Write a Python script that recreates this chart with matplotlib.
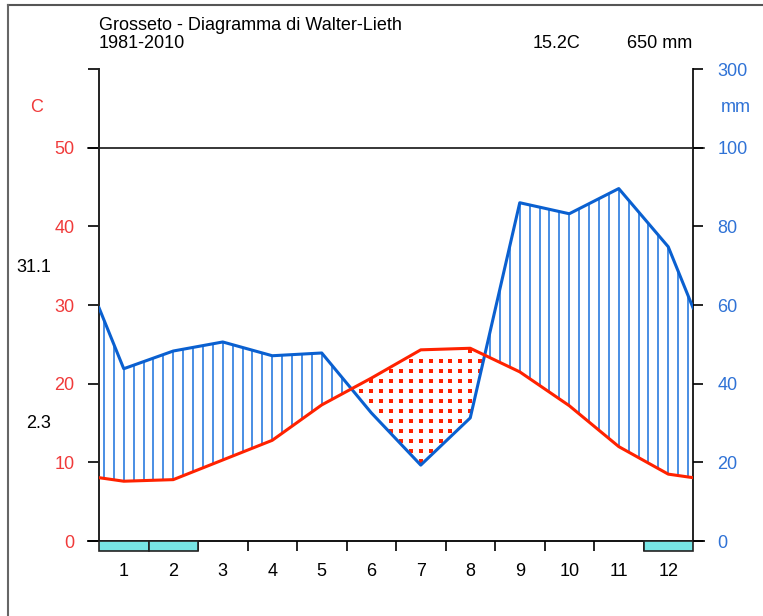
import numpy as np
import matplotlib
matplotlib.use('Agg')
import matplotlib.pyplot as plt
from matplotlib.lines import Line2D

plt.rcParams['font.family'] = ['Liberation Sans', 'DejaVu Sans']
plt.rcParams['font.size'] = 13

# Data
months = ['1', '2', '3', '4', '5', '6', '7', '8', '9', '10', '11', '12']
temp_c = [7.6, 7.8, 10.3, 12.8, 17.3, 20.7, 24.3, 24.5, 21.5, 17.2, 12.0, 8.5]
prec_mm = [43.8, 48.3, 50.6, 47.1, 47.8, 32.6, 19.3, 31.3, 86.0, 83.2, 89.6, 74.8]
frost_months = [1, 2, 12]
station = 'Grosseto - Diagramma di Walter-Lieth'
period = '1981-2010'
mean_temp = '15.2C'
total_prec = '650 mm'
max_warm = '31.1'
min_cold = '2.3'

colors = {
    'red': '#FF2200',
    'red_text': '#F03A3A',
    'blue': '#0A60D0',
    'hatch': '#3A86E2',
    'blue_text': '#2F72D6',
    'frost': '#77E6E6',
}
fs = 13

# curves at month centres, closed at both edges with Dec/Jan mean
t_arr = np.array(temp_c)
p_arr = np.array(prec_mm) / 2.0  # 2 mm per degree
x_pts = np.r_[0, np.arange(12) + 0.5, 12]
t_pts = np.r_[(t_arr[0] + t_arr[-1]) / 2, t_arr, (t_arr[0] + t_arr[-1]) / 2]
p_pts = np.r_[(p_arr[0] + p_arr[-1]) / 2, p_arr, (p_arr[0] + p_arr[-1]) / 2]

fig = plt.figure(figsize=(7.63, 6.16), dpi=100)
ax = fig.add_axes([99 / 763, 1 - 541 / 616, 594 / 763, 472 / 616])
ax.set_xlim(0, 12)
ax.set_ylim(0, 60)

# humid period: vertical blue hatching
xs = 0.1 + 0.2 * np.arange(60)
t_x = np.interp(xs, x_pts, t_pts)
p_x = np.interp(xs, x_pts, p_pts)
wet = p_x > t_x
ax.vlines(xs[wet], t_x[wet], p_x[wet], color=colors['hatch'], lw=1.3, zorder=2)

# arid period: red dots
dot_y = 1.272 * np.arange(1, 40)
gx, gy = np.meshgrid(xs, dot_y)
gt = np.interp(gx, x_pts, t_pts)
gp = np.interp(gx, x_pts, p_pts)
dry = (gy < gt - 0.3) & (gy > gp + 0.3)
ax.plot(gx[dry], gy[dry], 's', color=colors['red'], ms=2.2, mew=0, zorder=2)

ax.plot(x_pts, p_pts, color=colors['blue'], lw=2.2, zorder=3)
ax.plot(x_pts, t_pts, color=colors['red'], lw=2.2, zorder=4)

# reference lines at 0 and 50 C
ax.plot([-0.22, 12.22], [0, 0], color='black', lw=1.3, clip_on=False, zorder=5)
ax.plot([-0.22, 12.22], [50, 50], color='black', lw=1.1, clip_on=False, zorder=1)

# frost months
ax.bar(np.array(frost_months) - 0.5, -1.27, width=1, bottom=0, color=colors['frost'],
       edgecolor='#222222', lw=1.2, clip_on=False, zorder=5)

for s in ['top', 'bottom']:
    ax.spines[s].set_visible(False)
for s in ['left', 'right']:
    ax.spines[s].set_linewidth(1.4)
    ax.spines[s].set_color('#222222')

ax.set_yticks([0, 10, 20, 30, 40, 50, 60])
ax.set_yticklabels(['0', '10', '20', '30', '40', '50', ''])
ax.tick_params(axis='y', direction='out', length=8, width=1.2, pad=9.5,
               labelcolor=colors['red_text'], labelsize=fs)

ax.set_xticks(np.arange(12) + 0.5)
ax.set_xticklabels(months)
ax.set_xticks(np.arange(1, 12), minor=True)
ax.tick_params(axis='x', which='major', length=0, pad=16, labelsize=fs)
ax.tick_params(axis='x', which='minor', direction='out', length=7.5, width=1.2)

ax2 = ax.twinx()
ax2.set_ylim(0, 60)
for s in ['top', 'bottom', 'left', 'right']:
    ax2.spines[s].set_visible(False)
ax2.set_yticks([0, 10, 20, 30, 40, 50, 60])
ax2.set_yticklabels(['0', '20', '40', '60', '80', '100', '300'])
ax2.tick_params(axis='y', direction='out', length=7.5, width=1.2, pad=10,
                labelcolor=colors['blue_text'], labelsize=fs)

# header and side texts
fig.text(99 / 763, 1 - 25 / 616, station, fontsize=fs, va='center', ha='left')
fig.text(99 / 763, 1 - 44 / 616, period, fontsize=fs, va='center', ha='left')
fig.text(580 / 763, 1 - 44 / 616, mean_temp, fontsize=fs, va='center', ha='right')
fig.text(692 / 763, 1 - 44 / 616, total_prec, fontsize=fs, va='center', ha='right')
fig.text(37 / 763, 1 - 108 / 616, 'C', fontsize=fs, va='center', ha='center', color=colors['red_text'])
fig.text(736 / 763, 1 - 108 / 616, 'mm', fontsize=fs, va='center', ha='center', color=colors['blue_text'])
fig.text(51 / 763, 1 - 267 / 616, max_warm, fontsize=fs, va='center', ha='right')
fig.text(51 / 763, 1 - 423 / 616, min_cold, fontsize=fs, va='center', ha='right')

# outer frame (top and left)
fig.add_artist(Line2D([8 / 763, 1], [1 - 5 / 616, 1 - 5 / 616], color='#555555', lw=1.5))
fig.add_artist(Line2D([8 / 763, 8 / 763], [0, 1 - 5 / 616], color='#666666', lw=1.5))

fig.savefig('out.png', dpi=100)
